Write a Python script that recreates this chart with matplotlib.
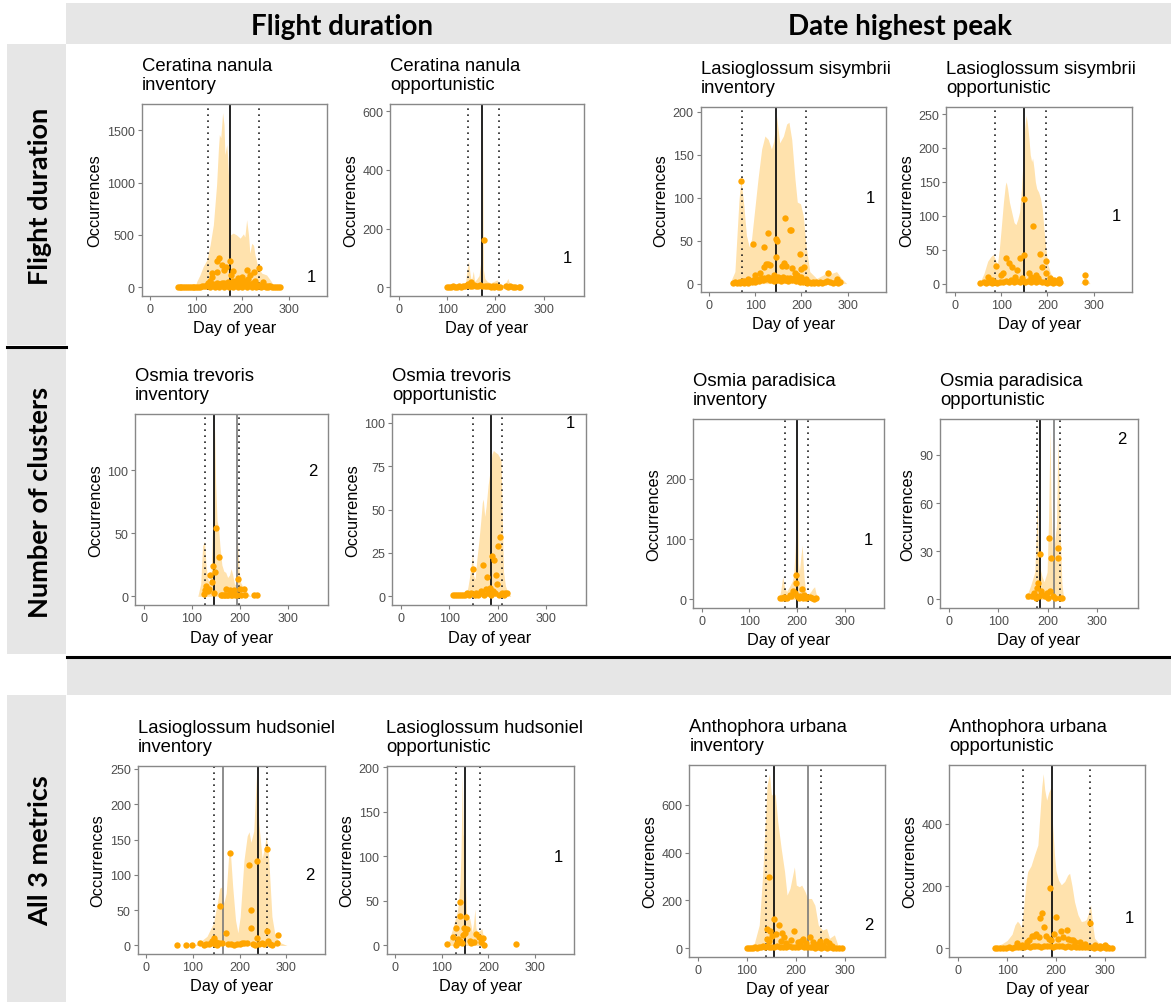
import matplotlib.pyplot as plt
from matplotlib.patches import Rectangle
from matplotlib.lines import Line2D

plt.rcParams['font.family'] = ['Liberation Sans', 'DejaVu Sans']

# ---- panel descriptions (reading order, 3 rows x 4 panels) ----
species = ["Ceratina nanula", "Ceratina nanula", "Lasioglossum sisymbrii", "Lasioglossum sisymbrii",
           "Osmia trevoris", "Osmia trevoris", "Osmia paradisica", "Osmia paradisica",
           "Lasioglossum hudsoniel", "Lasioglossum hudsoniel", "Anthophora urbana", "Anthophora urbana"]
methods = ["inventory", "opportunistic"] * 6
n_clusters = [1, 1, 1, 1, 2, 1, 1, 2, 2, 1, 2, 1]
peak_main = [172, 173, 146, 150, 146, 185, 200, 184, 240, 149, 156, 191]
peak_second = [None, None, None, None, 193, None, None, 214, 165, None, 224, None]
season_start = [126, 142, 71, 87, 126, 148, 175, 178, 145, 130, 139, 133]
season_end = [235, 207, 209, 198, 197, 208, 223, 225, 259, 182, 252, 269]
yticks = [[0, 500, 1000, 1500], [0, 200, 400, 600], [0, 50, 100, 150, 200], [0, 50, 100, 150, 200, 250],
          [0, 50, 100], [0, 25, 50, 75, 100], [0, 100, 200], [0, 30, 60, 90],
          [0, 50, 100, 150, 200, 250], [0, 50, 100, 150, 200], [0, 200, 400, 600], [0, 200, 400]]
label_x, label_y = 350, 100

# ---- occurrence envelopes (day, occurrences) ----
cn_inv_ribbon = [(97, 0), (101, 54), (108, 118), (115, 198), (123, 262), (130, 405), (137, 597), (144, 980),
                 (148, 1330), (150, 1458), (153, 1427), (157, 1666), (160, 1554), (162, 1267), (166, 1363),
                 (168, 1235), (171, 948), (174, 501), (180, 517), (187, 500), (195, 469), (202, 510), (205, 480),
                 (209, 645), (213, 501), (216, 325), (220, 420), (224, 400), (227, 310), (234, 182), (242, 134),
                 (252, 118), (260, 70), (267, 22), (274, 0)]
cn_opp_ribbon = [(93, 0), (105, 3), (120, 6), (130, 8), (138, 15), (141, 60), (144, 90), (147, 50), (150, 20),
                 (154, 55), (157, 20), (162, 30), (166, 40), (169, 80), (171, 120), (172, 400), (173, 595),
                 (174, 300), (175, 60), (178, 30), (183, 20), (190, 15), (197, 20), (203, 25), (208, 15),
                 (213, 8), (220, 12), (226, 30), (230, 10), (236, 5), (244, 3), (252, 0)]
ls_inv_ribbon = [(45, 0), (56, 14), (65, 99), (69, 120), (74, 99), (81, 56), (87, 43), (92, 52), (99, 87),
                 (106, 122), (114, 157), (121, 172), (128, 168), (135, 157), (140, 166), (146, 196), (153, 164),
                 (161, 172), (168, 186), (173, 188), (179, 168), (186, 122), (191, 95), (198, 93), (204, 79),
                 (210, 44), (218, 14), (233, 6), (247, 10), (258, 15), (266, 12), (276, 14), (287, 6), (298, 0)]
ls_opp_ribbon = [(46, 0), (55, 3), (63, 15), (71, 33), (78, 40), (83, 43), (88, 35), (92, 28), (96, 50),
                 (100, 80), (105, 120), (109, 145), (111, 150), (114, 140), (118, 120), (123, 105), (128, 90),
                 (132, 87), (136, 95), (140, 106), (144, 140), (148, 190), (151, 230), (154, 248), (157, 235),
                 (160, 215), (163, 190), (166, 180), (168, 185), (171, 170), (174, 150), (177, 140), (181, 135),
                 (185, 126), (189, 110), (193, 77), (197, 50), (201, 28), (207, 15), (212, 10), (217, 8),
                 (225, 5), (233, 1), (240, 0), (272, 0), (276, 6), (282, 9), (288, 5), (292, 0)]
ot_inv_ribbon = [(112, 0), (118, 10), (122, 40), (126, 44), (129, 25), (132, 15), (136, 10), (140, 20),
                 (143, 60), (145, 125), (146, 138), (147, 130), (149, 90), (152, 60), (155, 55), (158, 40),
                 (162, 25), (166, 20), (170, 19), (174, 15), (178, 17), (181, 22), (184, 18), (188, 10),
                 (191, 9), (193, 46), (195, 40), (198, 20), (201, 11), (205, 8), (210, 6), (217, 2), (222, 0)]
ot_opp_ribbon = [(133, 0), (138, 5), (141, 10), (145, 18), (148, 25), (150, 12), (153, 10), (157, 22),
                 (161, 32), (165, 44), (168, 54), (170, 56), (173, 46), (176, 52), (180, 64), (184, 72),
                 (188, 82), (191, 84), (195, 83), (200, 82), (204, 80), (207, 78), (209, 50), (212, 14),
                 (216, 6), (220, 3), (227, 0)]
op_inv_ribbon = [(162, 0), (166, 15), (170, 38), (174, 20), (178, 13), (182, 18), (186, 24), (190, 30),
                 (193, 40), (196, 80), (198, 123), (199, 200), (200, 285), (201, 200), (203, 60), (205, 46),
                 (208, 70), (211, 90), (213, 60), (215, 35), (218, 15), (221, 7), (225, 10), (229, 13),
                 (233, 18), (237, 21), (240, 10), (243, 4), (246, 0)]
op_opp_ribbon = [(155, 0), (160, 4), (166, 9), (170, 13), (174, 17), (177, 40), (179, 65), (181, 30),
                 (185, 19), (189, 14), (193, 11), (196, 14), (199, 17), (202, 50), (205, 107), (207, 60),
                 (210, 27), (214, 35), (218, 46), (221, 100), (223, 80), (226, 40), (229, 10), (233, 0)]
lh_inv_ribbon = [(101, 0), (115, 5), (130, 13), (144, 32), (153, 64), (157, 81), (162, 83), (166, 60),
                 (171, 74), (176, 125), (180, 132), (185, 83), (191, 36), (196, 18), (201, 41), (209, 120),
                 (216, 155), (220, 161), (224, 146), (230, 162), (236, 242), (241, 172), (248, 123), (253, 139),
                 (257, 155), (262, 125), (269, 41), (276, 13), (287, 4), (301, 0)]
lh_opp_ribbon = [(112, 0), (117, 8), (121, 15), (125, 22), (129, 30), (133, 38), (136, 48), (139, 70),
                 (141, 100), (143, 160), (144, 192), (145, 160), (146, 125), (148, 119), (150, 80), (153, 37),
                 (157, 32), (160, 30), (163, 22), (165, 15), (168, 25), (171, 41), (173, 20), (176, 15),
                 (180, 16), (186, 19), (189, 10), (192, 4), (195, 0)]
au_inv_ribbon = [(94, 0), (115, 21), (125, 97), (132, 306), (137, 514), (141, 680), (146, 729), (150, 639),
                 (155, 650), (158, 639), (163, 528), (170, 417), (177, 319), (182, 222), (188, 250), (197, 340),
                 (201, 264), (207, 257), (212, 264), (219, 236), (224, 208), (232, 208), (239, 180), (246, 97),
                 (255, 76), (263, 83), (269, 42), (279, 56), (286, 14), (294, 0)]
au_opp_ribbon = [(67, 0), (80, 8), (90, 15), (100, 25), (110, 45), (116, 75), (121, 87), (125, 80), (129, 66),
                 (133, 120), (138, 200), (142, 246), (149, 265), (156, 300), (163, 332), (168, 449), (171, 520),
                 (174, 561), (177, 510), (181, 476), (185, 500), (190, 518), (193, 400), (197, 300), (200, 250),
                 (205, 220), (211, 204), (218, 215), (224, 235), (228, 241), (233, 200), (238, 150), (245, 108),
                 (252, 86), (258, 88), (262, 92), (266, 110), (271, 140), (275, 80), (279, 33), (286, 20),
                 (293, 12), (305, 4), (320, 0)]

# ---- daily occurrence counts (day, occurrences) ----
cn_inv_dots = [(60, 2), (64, 1), (68, 2), (72, 1), (76, 3), (80, 2), (84, 1), (88, 3), (92, 2), (96, 4),
               (100, 3), (104, 6), (108, 5), (112, 8), (116, 10), (120, 14), (124, 20), (128, 25), (132, 18),
               (136, 30), (140, 22), (144, 40), (148, 35), (152, 28), (156, 45), (160, 38), (164, 30), (168, 50),
               (172, 40), (176, 35), (180, 60), (184, 30), (188, 45), (192, 25), (196, 38), (200, 30), (204, 42),
               (208, 28), (212, 35), (216, 22), (220, 30), (224, 18), (228, 25), (232, 15), (236, 20), (240, 12),
               (244, 10), (248, 14), (252, 8), (256, 6), (260, 10), (264, 5), (268, 4), (272, 3), (276, 2),
               (282, 1), (130, 3), (150, 5), (170, 2), (190, 4), (210, 3), (230, 2), (250, 2), (140, 2),
               (160, 3), (180, 2), (200, 1), (220, 4), (240, 2), (150, 284), (144, 246), (155, 214), (159, 166),
               (172, 246), (164, 190), (145, 150), (133, 134), (135, 100), (175, 120), (180, 160), (190, 90),
               (200, 100), (209, 166), (224, 150), (236, 182), (228, 60), (245, 50), (130, 60), (125, 40),
               (185, 60), (195, 70), (205, 60), (212, 80), (217, 118), (222, 40), (258, 15)]
cn_opp_dots = [(100, 1), (104, 2), (108, 1), (112, 3), (116, 2), (120, 1), (124, 4), (128, 2), (132, 3),
               (136, 5), (140, 8), (144, 12), (148, 6), (150, 18), (152, 4), (156, 7), (160, 3), (164, 5),
               (168, 8), (172, 4), (176, 160), (178, 6), (182, 3), (186, 5), (190, 2), (194, 4), (198, 2),
               (202, 3), (206, 1), (210, 2), (222, 5), (226, 2), (230, 3), (236, 1), (240, 2), (248, 1), (252, 2)]
ls_inv_dots = [(70, 119), (96, 46), (118, 43), (128, 59), (148, 50), (146, 52), (165, 76), (178, 62),
               (176, 63), (146, 31), (196, 34), (199, 17), (205, 19), (120, 19), (124, 23), (128, 23), (132, 22),
               (157, 20), (163, 24), (167, 20), (258, 12), (277, 5), (100, 10), (110, 12), (140, 10), (150, 8),
               (185, 12), (190, 10), (210, 5), (85, 5), (75, 3), (180, 18), (200, 8), (52, 1), (56, 2), (60, 1),
               (64, 2), (68, 1), (72, 3), (76, 1), (80, 2), (84, 1), (88, 3), (92, 2), (96, 4), (100, 2),
               (104, 5), (108, 3), (112, 6), (116, 4), (120, 7), (124, 5), (128, 8), (132, 4), (136, 6),
               (140, 3), (144, 7), (148, 4), (152, 6), (156, 3), (160, 8), (164, 4), (168, 6), (172, 3), (176, 7),
               (180, 4), (184, 6), (188, 3), (192, 5), (196, 2), (200, 4), (204, 2), (208, 3), (212, 1),
               (216, 2), (220, 1), (224, 2), (228, 1), (232, 2), (236, 1), (240, 2), (244, 1), (250, 2),
               (256, 3), (262, 2), (268, 1), (274, 2), (280, 1), (284, 2)]
ls_opp_dots = [(150, 125), (168, 85), (88, 26), (110, 38), (118, 30), (123, 25), (140, 37), (150, 42),
               (185, 44), (188, 24), (196, 34), (196, 15), (282, 12), (282, 2), (72, 10), (80, 5), (100, 12),
               (105, 15), (130, 10), (135, 20), (145, 8), (160, 15), (165, 10), (175, 12), (180, 8), (205, 8),
               (215, 5), (225, 7), (55, 1), (62, 2), (68, 1), (74, 3), (80, 1), (86, 2), (92, 1), (98, 3),
               (104, 2), (110, 4), (116, 2), (122, 5), (128, 3), (134, 4), (140, 2), (146, 5), (152, 3), (158, 4),
               (164, 2), (170, 5), (176, 3), (182, 4), (188, 2), (194, 3), (200, 1), (206, 2), (212, 1),
               (218, 2), (224, 1), (228, 2)]
ot_inv_dots = [(150, 54), (156, 31), (143, 24), (147, 19), (138, 17), (141, 11), (130, 8), (124, 2), (133, 4),
               (127, 5), (195, 14), (199, 6), (207, 6), (170, 6), (178, 5), (187, 5), (160, 1), (163, 1),
               (166, 1), (169, 1), (172, 1), (175, 1), (181, 1), (184, 1), (190, 1), (193, 1), (202, 1),
               (210, 1), (228, 1), (235, 1), (136, 6), (145, 3)]
ot_opp_dots = [(205, 34), (201, 29), (193, 21), (188, 23), (170, 18), (149, 16), (178, 11), (196, 12),
               (198, 7), (183, 5), (165, 3), (175, 4), (190, 3), (108, 1), (112, 1), (116, 1), (120, 1),
               (124, 1), (128, 1), (132, 1), (136, 2), (140, 1), (144, 2), (152, 1), (156, 2), (160, 1),
               (168, 2), (172, 1), (180, 2), (186, 1), (194, 2), (202, 1), (208, 2), (212, 1), (216, 2),
               (220, 2)]
op_inv_dots = [(198, 40), (197, 28), (210, 18), (192, 14), (185, 8), (172, 4), (175, 2), (215, 8), (222, 4),
               (228, 4), (240, 2), (165, 2), (168, 3), (180, 3), (188, 5), (195, 10), (200, 6), (204, 3),
               (207, 5), (212, 3), (218, 2), (232, 3), (236, 1)]
op_opp_dots = [(202, 38), (222, 32), (222, 26), (207, 26), (184, 28), (179, 7), (186, 5), (205, 5), (168, 2),
               (173, 4), (190, 3), (195, 2), (212, 2), (230, 1), (160, 2), (176, 1), (182, 2), (198, 4),
               (200, 1), (216, 1), (226, 1), (180, 10)]
lh_inv_dots = [(180, 131), (219, 114), (238, 120), (258, 136), (158, 56), (224, 50), (224, 25), (170, 18),
               (258, 21), (281, 15), (260, 6), (238, 10), (280, 4), (66, 1), (86, 1), (98, 1), (114, 3),
               (124, 1), (128, 2), (134, 2), (138, 4), (140, 6), (144, 10), (150, 5), (155, 3), (162, 4),
               (175, 2), (182, 2), (188, 1), (195, 2), (200, 2), (205, 3), (210, 3), (215, 4), (228, 2),
               (232, 1), (242, 2), (248, 3), (253, 2), (265, 2), (270, 1), (152, 1), (148, 2)]
lh_opp_dots = [(139, 49), (139, 33), (147, 20), (152, 32), (130, 20), (125, 10), (135, 7), (140, 5), (150, 14),
               (155, 19), (174, 13), (180, 10), (188, 8), (168, 4), (162, 3), (112, 2), (130, 1), (190, 1),
               (258, 2), (145, 12), (143, 3), (132, 3), (160, 5), (185, 4)]
au_inv_dots = [(146, 296), (156, 124), (166, 97), (141, 81), (148, 73), (197, 72), (175, 45), (171, 62),
               (215, 38), (230, 45), (250, 30), (262, 32), (140, 40), (160, 60), (145, 30), (152, 50), (170, 30),
               (180, 20), (190, 35), (205, 25), (210, 30), (220, 20), (235, 25), (240, 15), (245, 18), (255, 12),
               (268, 20), (275, 10), (100, 2), (104, 1), (108, 3), (112, 2), (116, 4), (120, 3), (124, 6),
               (128, 5), (132, 8), (136, 6), (140, 8), (144, 5), (150, 7), (156, 4), (162, 8), (168, 5),
               (174, 7), (180, 4), (186, 8), (192, 5), (198, 7), (204, 4), (210, 8), (216, 5), (222, 7),
               (228, 4), (234, 6), (240, 3), (246, 5), (252, 3), (258, 5), (264, 2), (270, 4), (276, 2),
               (282, 3), (288, 1), (294, 2)]
au_opp_dots = [(188, 193), (200, 102), (172, 112), (168, 98), (176, 68), (210, 55), (222, 60), (270, 82),
               (150, 40), (160, 45), (165, 35), (180, 40), (195, 45), (205, 30), (215, 35), (225, 30), (235, 28),
               (240, 20), (250, 20), (260, 15), (120, 18), (130, 12), (140, 20), (145, 25), (155, 38), (185, 30),
               (190, 25), (230, 25), (280, 10), (290, 8), (300, 10), (305, 5), (75, 1), (80, 2), (86, 1),
               (92, 2), (98, 1), (104, 3), (110, 2), (116, 4), (122, 3), (128, 5), (134, 4), (140, 6), (146, 5),
               (152, 8), (158, 6), (164, 8), (170, 5), (176, 7), (182, 6), (188, 8), (194, 5), (200, 7),
               (206, 6), (212, 8), (218, 5), (224, 7), (230, 4), (236, 6), (242, 4), (248, 5), (254, 3),
               (260, 4), (266, 3), (272, 4), (278, 2), (284, 3), (290, 2), (296, 3), (302, 1), (308, 2), (315, 1)]

ribbons = [cn_inv_ribbon, cn_opp_ribbon, ls_inv_ribbon, ls_opp_ribbon, ot_inv_ribbon, ot_opp_ribbon,
           op_inv_ribbon, op_opp_ribbon, lh_inv_ribbon, lh_opp_ribbon, au_inv_ribbon, au_opp_ribbon]
dots = [cn_inv_dots, cn_opp_dots, ls_inv_dots, ls_opp_dots, ot_inv_dots, ot_opp_dots,
        op_inv_dots, op_opp_dots, lh_inv_dots, lh_opp_dots, au_inv_dots, au_opp_dots]

col_headers = ["Flight duration", "Date highest peak"]
row_headers = ["Flight duration", "Number of clusters", "All 3 metrics"]

# ---- layout (pixels) ----
W, H = 1171, 1003
panel_px = [(141.6, 105, 327.2, 297), (390.4, 105, 583.6, 297), (700.6, 108, 886.1, 293), (946.4, 108, 1132.2, 293),
            (135.1, 415, 328.4, 606), (392.3, 415, 586.3, 606), (693.1, 420, 884.2, 609), (940.0, 420, 1137.9, 609),
            (137.8, 767, 325.3, 955), (386.5, 767, 574.1, 955), (689.3, 766, 885.3, 958), (949.4, 766, 1145.4, 958)]

fig = plt.figure(figsize=(W / 100, H / 100), dpi=100)


def rect(x0, y0, x1, y1, **kw):
    fig.add_artist(Rectangle((x0 / W, 1 - y1 / H), (x1 - x0) / W, (y1 - y0) / H,
                             transform=fig.transFigure, lw=0, zorder=0, **kw))


def hline(x0, x1, y, lw=2.2):
    fig.add_artist(Line2D([x0 / W, x1 / W], [1 - y / H, 1 - y / H], transform=fig.transFigure,
                          color='black', lw=lw))


grey = '#e6e6e6'
rect(66, 4, 1171, 45, color=grey)
rect(7, 45, 66, 346, color=grey)
rect(7, 349, 66, 655, color=grey)
rect(67, 659, 1171, 696, color=grey)
rect(7, 696, 66, 1003, color=grey)
hline(7, 66, 347.5)
hline(67, 1171, 657.5)

head_font = dict(family=['Lato', 'DejaVu Sans'], weight='bold', color='black')
fig.text(341.6 / W, 1 - 27 / H, col_headers[0], ha='center', va='center', fontsize=20, **head_font)
fig.text(900.4 / W, 1 - 27 / H, col_headers[1], ha='center', va='center', fontsize=20, **head_font)
for lab, yc in zip(row_headers, [196, 502, 851]):
    fig.text(40 / W, 1 - yc / H, lab, ha='center', va='center', rotation=90, fontsize=19.5, **head_font)

orange = '#FFA500'
for i in range(12):
    x0, y0, x1, y1 = panel_px[i]
    ax = fig.add_axes([x0 / W, 1 - y1 / H, (x1 - x0) / W, (y1 - y0) / H])
    rx, ry = zip(*ribbons[i])
    dx, dy = zip(*dots[i])
    ax.fill_between(rx, 0, ry, color=orange, alpha=0.32, lw=0, zorder=1)
    ax.scatter(dx, dy, s=21, color=orange, lw=0, zorder=3)
    ax.axvline(season_start[i], color='#222222', ls=(0, (1, 2.6)), lw=1.2, zorder=2)
    ax.axvline(season_end[i], color='#222222', ls=(0, (1, 2.6)), lw=1.2, zorder=2)
    if peak_second[i] is not None:
        ax.axvline(peak_second[i], color='#7a7a7a', lw=1.2, zorder=2)
    ax.axvline(peak_main[i], color='#111111', lw=1.3, zorder=2)
    ax.text(label_x, label_y, str(n_clusters[i]), ha='center', va='center', fontsize=12, color='black')

    top = max(max(ry), max(dy), label_y)
    ax.set_ylim(-0.05 * top, 1.05 * top)
    ax.set_xlim(-18.25, 383.25)
    ax.set_xticks([0, 100, 200, 300])
    ax.set_yticks(yticks[i])
    ax.tick_params(colors='#7f7f7f', labelcolor='#4d4d4d', labelsize=9, length=3, width=0.8, pad=2)
    for s in ax.spines.values():
        s.set_color('#888888')
        s.set_linewidth(1.0)
    ax.set_xlabel("Day of year", fontsize=11.7, labelpad=4)
    ax.set_ylabel("Occurrences", fontsize=11.7, labelpad=3)
    ax.annotate(species[i] + "\n" + methods[i], xy=(0, 1), xycoords='axes fraction', xytext=(0, 8),
                textcoords='offset points', ha='left', va='bottom', fontsize=13.3, linespacing=1.15)

fig.savefig('out.png', dpi=100)
